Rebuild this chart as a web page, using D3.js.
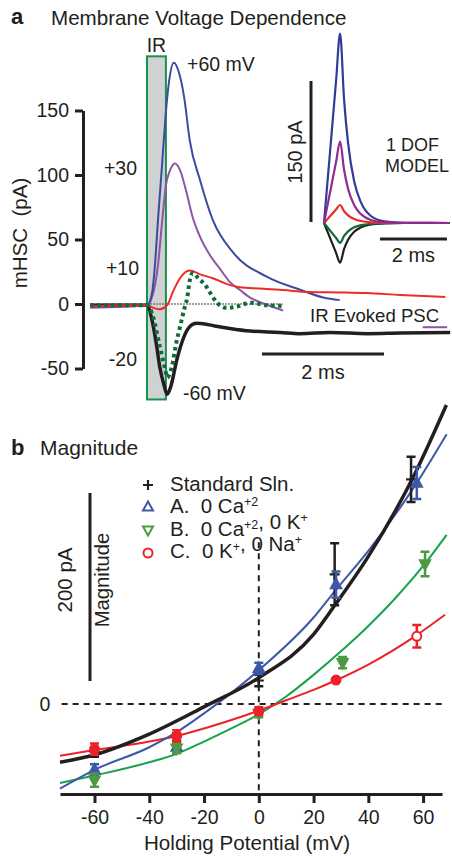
<!DOCTYPE html>
<html>
<head>
<meta charset="utf-8">
<script src="https://cdn.jsdelivr.net/npm/d3@7"></script>
<style>
  html, body { margin: 0; padding: 0; background: #fff; }
  svg { display: block; font-family: "Liberation Sans", Arial, sans-serif; }
  text { fill: #231f20; }
</style>
</head>
<body>
<svg width="452" height="857"></svg>
<script>
// Panel a: recorded traces, [ms from IR onset, pA]
const trace60 = [[-0.93,-2],[0,-1],[0.08,8],[0.13,30],[0.18,65],[0.25,110],[0.30,143],[0.36,172],[0.44,187],[0.52,180],[0.61,160],[0.70,127],[0.87,96],[1.08,65],[1.41,40],[1.97,21],[2.51,11],[2.89,5],[3.16,3]];
const trace30 = [[-0.93,-3],[0,-1],[0.08,5],[0.18,30],[0.25,65],[0.31,92],[0.38,104],[0.46,109],[0.54,104],[0.64,88],[0.75,67],[0.87,52],[1.03,38],[1.20,27],[1.36,17],[1.52,11],[1.69,5],[1.93,0],[2.23,-5]];
const trace30Tail = [[4.52,-18],[4.92,-18]];
const trace10 = [[-0.93,-2],[-0.44,-1],[0,-1],[0.10,-3],[0.21,-4],[0.33,-1],[0.43,10],[0.54,20],[0.70,26],[0.87,23],[1.08,20],[1.28,16],[1.52,13],[1.85,12],[2.18,11],[2.67,9.3],[3.16,9],[3.61,8.5],[4.15,7],[4.89,5.5]];
const traceM20 = [[-0.93,-1],[0,-1],[0.10,-10],[0.21,-33],[0.30,-51],[0.33,-57],[0.41,-48],[0.48,-30],[0.54,-18],[0.61,-4],[0.66,5],[0.70,18],[0.75,24],[0.84,20],[0.98,13],[1.07,6],[1.15,1],[1.31,-3],[1.48,-2],[1.69,1],[1.97,-1],[2.23,-1.5]];
const traceM60 = [[-0.93,-1],[0,-1],[0.08,-12],[0.15,-30],[0.21,-49],[0.28,-63],[0.33,-70],[0.39,-64],[0.49,-43],[0.57,-30],[0.66,-20],[0.74,-16],[0.82,-15],[0.95,-15.5],[1.11,-17],[1.36,-19],[1.69,-21],[2.18,-22],[2.51,-23],[3.00,-22],[3.61,-23],[4.15,-22.5],[4.97,-22]];
const zeroLine = [-0.93, 2.23];
const irWindow = [0, 0.31];
const irSpan = [-74, 192];
const aTicks = [-50, 0, 50, 100, 150];

// Inset: 1 DOF model
const modelTime = [0, 0.12, 0.24, 0.36, 0.48, 0.6, 0.72, 0.9, 1.1, 1.4, 1.8, 2.4, 3.76];
const model60 = [0, 50, 100, 150, 200, 130, 84, 44, 22, 7.4, 1.8, 0.2, 0];
const model30 = [0, 21.5, 43, 64.5, 86, 56, 36, 19, 9.4, 3.2, 0.8, 0.1, 0];
const model10 = [0, 4.8, 9.5, 14.3, 19, 12.4, 8, 4.2, 2.1, 0.7, 0.2, 0, 0];
const modelM20 = [0, -5.3, -10.5, -15.8, -21, -13.7, -8.8, -4.6, -2.3, -0.8, -0.2, 0, 0];
const modelM60 = [0, -10.5, -21, -31.5, -42, -27.3, -17.6, -9.2, -4.6, -1.6, -0.4, 0, 0];

// Panel b: holding potential (mV), magnitude (pA), error (pA)
const stdV = [-60, -30, 0, 27.7, 55.6];
const stdI = [-51, -35, 25, 138, 239];
const stdE = [5, 4, 6, 33, 24];
const aV = [-60, -30, 0, 28.2, 57.7];
const aI = [-70, -46, 38, 127, 235];
const aE = [6, 6, 6, 14, 17];
const bV = [-60, -30, 0, 30.6, 60.7];
const bI = [-81, -47, -10, 44, 149];
const bE = [7, 5, 4, 6, 13];
const cV = [-60, -30, 0, 28.2, 57.7];
const cI = [-48, -34, -7.5, 25.5, 72];
const cE = [6, 6, 4, 0, 12];

// fitted curves [mV, pA]
const fitStd = [[-72.6,-62],[-60,-54],[-40,-32],[-20,-3],[0,28],[20,74],[28,106],[40,157],[57,245],[68.5,318]];
const fitA = [[-72.6,-90],[-60,-70],[-40,-46],[-30,-30],[-20,-10],[0,36],[20,92],[28,121],[40,163],[57,232],[68.6,287]];
const fitB = [[-72.6,-84],[-60,-76],[-40,-62],[-30,-53],[-20,-40],[-10,-26],[0,-11],[10,8],[20,31],[30,56],[40,83],[50,113],[60.6,149],[68.6,180]];
const fitC = [[-72.6,-55],[-60,-49],[-40,-40],[-30,-34],[-20,-26],[-10,-17],[0,-7],[10,4],[20,15],[28,25],[40,42],[57,72],[68,95]];
const bTicks = [-60, -40, -20, 0, 20, 40, 60];
const vDash = [-96, 172];

const ink = "#231f20";
const fs = 19.5;
const svg = d3.select("svg");

const mkLine = (xs, ys) => d3.line().x(d => xs(d[0])).y(d => ys(d[1])).curve(d3.curveMonotoneX);

const label = (x, y, str, opts = {}) => svg.append("text")
    .attr("x", x).attr("y", y)
    .attr("font-size", opts.size || fs)
    .attr("font-weight", opts.bold ? "bold" : null)
    .attr("text-anchor", opts.anchor || "start")
    .text(str);

const vLabel = (x, y, str, size) => svg.append("text")
    .attr("transform", `translate(${x},${y}) rotate(-90)`)
    .attr("text-anchor", "middle")
    .attr("font-size", size || fs)
    .style("white-space", "pre")
    .text(str);

// ---------- panel a ----------
const xA = d3.scaleLinear().domain([0, 2]).range([147, 269]);
const yA = d3.scaleLinear().domain([-50, 150]).range([368.5, 110.5]);

label(11, 24, "a", {bold: true, size: 22});
label(51, 25, "Membrane Voltage Dependence", {size: 20.6});

// IR stimulus window
svg.append("rect")
    .attr("x", xA(irWindow[0])).attr("y", yA(irSpan[1]))
    .attr("width", xA(irWindow[1]) - xA(irWindow[0]))
    .attr("height", yA(irSpan[0]) - yA(irSpan[1]))
    .attr("fill", "#d0d1d3").attr("stroke", "#16924a").attr("stroke-width", 2);
label(xA((irWindow[0] + irWindow[1]) / 2), 52, "IR", {anchor: "middle"});

const axA = svg.append("g").attr("transform", "translate(83,0)")
    .call(d3.axisLeft(yA).tickValues(aTicks).tickFormat(d => String(d))
        .tickSize(8).tickSizeOuter(0).tickPadding(6));
axA.attr("font-family", null).attr("font-size", fs);
axA.select(".domain").attr("stroke", ink).attr("stroke-width", 3);
axA.selectAll(".tick line").attr("stroke", ink).attr("stroke-width", 3);
axA.selectAll(".tick text").attr("fill", ink);
vLabel(26.5, 233, "mHSC  (pA)", 20.5);

// zero reference
svg.append("line")
    .attr("x1", xA(zeroLine[0])).attr("x2", xA(zeroLine[1]))
    .attr("y1", yA(0)).attr("y2", yA(0))
    .attr("stroke", "#555").attr("stroke-width", 1.3).attr("stroke-dasharray", "1.5,1.5");

const lineA = mkLine(xA, yA);
const drawA = (data, color, w, dash) => svg.append("path").datum(data)
    .attr("d", lineA).attr("fill", "none").attr("stroke", color)
    .attr("stroke-width", w).attr("stroke-dasharray", dash || null);

drawA(traceM60, ink, 3.5);
drawA(trace30, "#8c55a6", 2);
drawA(trace30Tail, "#8c55a6", 2);
drawA(trace60, "#3b4ba0", 2);
drawA(trace10, "#ee2b25", 2);
drawA(traceM20, "#106b3a", 4, "3.5,3.5");

label(187, 71, "+60 mV");
label(137, 175, "+30", {anchor: "end"});
label(139, 275, "+10", {anchor: "end"});
label(137, 366, "-20", {anchor: "end"});
label(183, 400, "-60 mV");
label(310, 322, "IR Evoked PSC", {size: 18.6});

// time scale bar
svg.append("line")
    .attr("x1", xA(1.885)).attr("x2", xA(3.885))
    .attr("y1", 354).attr("y2", 354)
    .attr("stroke", ink).attr("stroke-width", 3);
label(xA(2.885), 379, "2 ms", {anchor: "middle", size: 20});

// ---------- inset model ----------
const xI = d3.scaleLinear().domain([0, 2]).range([324, 391]);
const yI = d3.scaleLinear().domain([0, 150]).range([223, 81]);
const lineI = mkLine(xI, yI);
const drawI = (vals, color) => svg.append("path")
    .datum(modelTime.map((t, i) => [t, vals[i]]))
    .attr("d", lineI).attr("fill", "none").attr("stroke", color).attr("stroke-width", 2.2);

drawI(modelM60, ink);
drawI(modelM20, "#136b36");
drawI(model10, "#ee2b25");
drawI(model60, "#2f3d97");
drawI(model30, "#922a8e");

svg.append("line")
    .attr("x1", 311).attr("x2", 311)
    .attr("y1", yI(0) - 1).attr("y2", yI(150))
    .attr("stroke", ink).attr("stroke-width", 3);
vLabel(302, 152, "150 pA", 20);
svg.append("line")
    .attr("x1", xI(1.67)).attr("x2", xI(3.67))
    .attr("y1", 239).attr("y2", 239)
    .attr("stroke", ink).attr("stroke-width", 3);
label(xI(2.67), 262, "2 ms", {anchor: "middle", size: 20});
label(386, 151, "1 DOF", {size: 18});
label(385, 172, "MODEL", {size: 18});

// ---------- panel b ----------
const xB = d3.scaleLinear().domain([-72.6, 66.9]).range([60, 442]);
const yB = d3.scaleLinear().domain([0, 200]).range([704, 516]);

label(11, 455, "b", {bold: true, size: 22});
label(40, 455, "Magnitude", {size: 21});

// dashed reference lines
svg.append("line")
    .attr("x1", xB(-72)).attr("x2", xB(66.9))
    .attr("y1", yB(0)).attr("y2", yB(0))
    .attr("stroke", ink).attr("stroke-width", 2).attr("stroke-dasharray", "6,5");
svg.append("line")
    .attr("x1", xB(0)).attr("x2", xB(0))
    .attr("y1", yB(vDash[1])).attr("y2", yB(vDash[0]))
    .attr("stroke", ink).attr("stroke-width", 2).attr("stroke-dasharray", "6,5");
label(45, yB(0) + 7, "0", {anchor: "middle"});

// 200 pA scale bar
svg.append("line")
    .attr("x1", 90).attr("x2", 90)
    .attr("y1", yB(24.5)).attr("y2", yB(224.5))
    .attr("stroke", ink).attr("stroke-width", 3);
vLabel(71.5, 580, "200 pA", 20.5);
vLabel(109, 580, "Magnitude", 20.3);

const axB = svg.append("g").attr("transform", "translate(0,794)")
    .call(d3.axisBottom(xB).tickValues(bTicks).tickFormat(d => String(d))
        .tickSize(9).tickSizeOuter(0).tickPadding(7));
axB.attr("font-family", null).attr("font-size", fs);
axB.select(".domain").attr("stroke", ink).attr("stroke-width", 3);
axB.selectAll(".tick line").attr("stroke", ink).attr("stroke-width", 3);
axB.selectAll(".tick text").attr("fill", ink);
label(247, 850, "Holding Potential (mV)", {anchor: "middle", size: 20.6});

const lineB = mkLine(xB, yB);
const drawB = (data, color, w) => svg.append("path").datum(data)
    .attr("d", lineB).attr("fill", "none").attr("stroke", color).attr("stroke-width", w);

drawB(fitB, "#17a24b", 2);
drawB(fitC, "#ec2227", 2);
drawB(fitA, "#3e58a8", 2);
drawB(fitStd, ink, 3.5);

const plus = "M-5,0H5M0,-5V5";
const triUp = "M0,-5.5L5,3.5L-5,3.5Z";
const triDown = "M0,5.5L5,-3.5L-5,-3.5Z";

const drawPoints = (vs, is, es, color, shape) => {
    const g = svg.append("g");
    vs.forEach((v, i) => {
        const x = xB(v), y = yB(is[i]);
        if (es[i] > 0) {
            const y1 = yB(is[i] + es[i]), y2 = yB(is[i] - es[i]);
            g.append("path")
                .attr("d", `M${x},${y1}V${y2}M${x - 4.5},${y1}H${x + 4.5}M${x - 4.5},${y2}H${x + 4.5}`)
                .attr("fill", "none").attr("stroke", color).attr("stroke-width", 2.5);
        }
        const filled = es[i] <= 10;
        if (shape === "circle") {
            g.append("circle").attr("cx", x).attr("cy", y).attr("r", 4.5)
                .attr("fill", filled ? color : "#fff").attr("stroke", color).attr("stroke-width", 2);
        } else {
            g.append("path").attr("d", shape).attr("transform", `translate(${x},${y})`)
                .attr("fill", shape === plus ? "none" : color)
                .attr("stroke", color).attr("stroke-width", 2.2);
        }
    });
};

drawPoints(stdV, stdI, stdE, ink, plus);
drawPoints(aV, aI, aE, "#3e58a8", triUp);
drawPoints(bV, bI, bE, "#4e9a42", triDown);
drawPoints(cV, cI, cE, "#ec2227", "circle");

// legend
const legend = svg.append("g");
legend.append("path").attr("d", plus).attr("transform", "translate(148,485)")
    .attr("stroke", ink).attr("stroke-width", 2.2);
legend.append("path").attr("d", triUp).attr("transform", "translate(148,507)")
    .attr("fill", "none").attr("stroke", "#3e58a8").attr("stroke-width", 2);
legend.append("path").attr("d", triDown).attr("transform", "translate(148,530)")
    .attr("fill", "none").attr("stroke", "#4e9a42").attr("stroke-width", 2);
legend.append("circle").attr("cx", 148).attr("cy", 553).attr("r", 4.5)
    .attr("fill", "none").attr("stroke", "#ec2227").attr("stroke-width", 2);

const legendText = (y, parts) => {
    const t = svg.append("text").attr("x", 170).attr("y", y)
        .attr("font-size", 20.5).style("white-space", "pre");
    parts.forEach(p => {
        if (typeof p === "string") {
            t.append("tspan").text(p);
        } else {
            t.append("tspan").attr("font-size", 12.5).attr("dy", -7).text(p.sup);
            t.append("tspan").attr("dy", 7).text("");
        }
    });
};
legendText(491, ["Standard Sln."]);
legendText(513, ["A.  0 Ca", {sup: "+2"}]);
legendText(536, ["B.  0 Ca", {sup: "+2"}, ", 0 K", {sup: "+"}]);
legendText(558, ["C.  0 K", {sup: "+"}, ", 0 Na", {sup: "+"}]);
</script>
</body>
</html>
